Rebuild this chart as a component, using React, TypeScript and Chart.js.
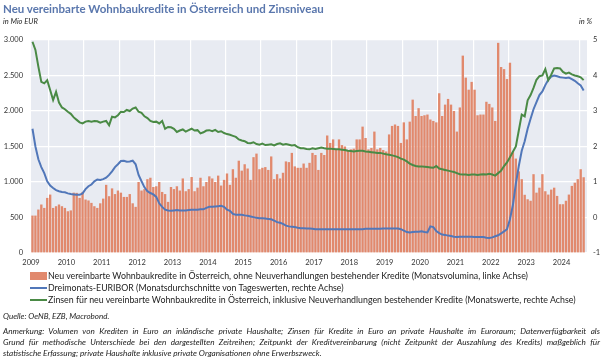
import React, { useEffect, useRef } from "react";
import { Chart, registerables } from "chart.js";

Chart.register(...registerables);

const firstYear = 2009;
const yearTicks = [2009, 2010, 2011, 2012, 2013, 2014, 2015, 2016, 2017, 2018, 2019, 2020, 2021, 2022, 2023, 2024];

// Monthly volume of newly agreed housing loans (Mio EUR), Jan 2009 – Aug 2024
const creditVolume = [
  527, 527, 612, 683, 635, 776, 823, 635, 659, 683, 659, 635,
  588, 600, 850, 847, 776, 860, 753, 740, 706, 659, 635, 700,
  766, 960, 800, 910, 830, 880, 850, 790, 790, 830, 700, 650,
  1000, 880, 900, 1040, 1060, 930, 940, 1000, 860, 830, 720, 930,
  900, 940, 880, 1050, 870, 900, 1070, 870, 920, 1060, 940, 1000,
  1080, 1050, 1000, 1090, 950, 1030, 1120, 960, 1180, 1060, 1300, 1160,
  1250, 1190, 1030, 1350, 1400, 1180, 1200, 1210, 1170, 1360, 1040, 1110,
  1050, 1130, 1290, 1280, 1410, 1220, 1200, 1200, 1260, 1200, 1270, 1410,
  1380, 1170, 1410, 1380, 1655, 1550, 1600, 1460, 1600, 1520, 1500, 1440,
  1460, 1470, 1600, 1600, 1780, 1620, 1460, 1480, 1710, 1460, 1480, 1450,
  1430, 1670, 1790, 1810, 1790, 1550, 1840, 1600, 1850, 2160, 1930, 2040,
  1930, 1940, 1950, 1880, 1860, 1840, 2250, 1930, 2090, 2170, 2090, 2000,
  1710, 2050, 2780, 2470, 2300, 2410, 2300, 1940, 1950, 1950, 2130, 2100,
  2050, 1860, 2960, 2620, 2590, 2450, 2680, 1420, 1330, 1150, 1040, 820,
  757, 736, 1110, 850, 920, 1110, 870, 823, 893, 920, 804, 687,
  687, 736, 823, 945, 990, 1040, 1180, 1067,
];

// 3-month EURIBOR, monthly averages (%)
const euribor = [
  2.5, 2.0, 1.64, 1.42, 1.25, 1.02, 0.9, 0.83, 0.77, 0.74, 0.72, 0.71,
  0.68, 0.66, 0.65, 0.64, 0.64, 0.68, 0.8, 0.88, 0.93, 1.02, 1.07, 1.06,
  1.08, 1.12, 1.2, 1.3, 1.42, 1.5, 1.59, 1.6, 1.57, 1.58, 1.6, 1.5,
  1.2, 1.02, 0.85, 0.74, 0.69, 0.65, 0.58, 0.4, 0.3, 0.22, 0.2, 0.19,
  0.2, 0.21, 0.2, 0.2, 0.2, 0.21, 0.22, 0.22, 0.22, 0.23, 0.23, 0.27,
  0.3, 0.3, 0.31, 0.32, 0.33, 0.3, 0.22, 0.19, 0.1, 0.08, 0.08, 0.08,
  0.06, 0.05, 0.03, 0.01, -0.01, -0.02, -0.02, -0.03, -0.04, -0.05, -0.09, -0.13,
  -0.15, -0.18, -0.23, -0.25, -0.26, -0.27, -0.29, -0.3, -0.3, -0.31, -0.31, -0.32,
  -0.33, -0.33, -0.33, -0.33, -0.33, -0.33, -0.33, -0.33, -0.33, -0.33, -0.33, -0.33,
  -0.33, -0.33, -0.33, -0.33, -0.33, -0.32, -0.32, -0.32, -0.32, -0.32, -0.32, -0.31,
  -0.31, -0.31, -0.31, -0.31, -0.31, -0.33, -0.37, -0.41, -0.42, -0.41, -0.4, -0.4,
  -0.39, -0.41, -0.42, -0.25, -0.27, -0.38, -0.44, -0.48, -0.49, -0.51, -0.52, -0.54,
  -0.55, -0.54, -0.54, -0.54, -0.54, -0.54, -0.55, -0.55, -0.55, -0.55, -0.57, -0.58,
  -0.56, -0.53, -0.5, -0.45, -0.39, -0.33, -0.05, 0.35, 0.95, 1.45, 1.88, 2.15,
  2.5, 2.78, 3.05, 3.25, 3.45, 3.55, 3.73, 3.88, 3.97, 4.0, 3.98, 3.95,
  3.94, 3.93, 3.94, 3.9, 3.85, 3.78, 3.72, 3.58,
];

// Interest rate on newly agreed housing loans incl. renegotiations (%)
const mortgageRate = [
  4.95, 4.72, 4.25, 3.82, 3.78, 3.87, 3.59, 3.31, 3.54, 3.24, 3.1, 3.05,
  2.98, 2.92, 2.82, 2.75, 2.68, 2.65, 2.7, 2.72, 2.7, 2.72, 2.71, 2.67,
  2.7, 2.72, 2.6, 2.84, 2.82, 2.88, 2.98, 2.97, 3.03, 3.0, 3.07, 3.1,
  2.98, 2.95, 2.85, 2.8, 2.72, 2.69, 2.7, 2.65, 2.72, 2.5, 2.55, 2.54,
  2.5, 2.41, 2.45, 2.48, 2.42, 2.46, 2.5, 2.45, 2.46, 2.37, 2.4, 2.45,
  2.46, 2.43, 2.47, 2.41, 2.43, 2.38, 2.35, 2.33, 2.3, 2.27, 2.2, 2.17,
  2.15, 2.1, 2.09, 2.12, 2.07, 2.05, 2.08, 2.04, 2.05, 2.06, 2.03, 2.07,
  2.09, 2.05, 2.07, 2.05, 2.03, 2.04, 1.98, 1.95, 1.95, 1.93, 1.92, 1.95,
  1.93, 1.95, 1.97, 1.95, 1.94, 1.94, 1.93, 1.92, 1.92, 1.91, 1.9, 1.88,
  1.87, 1.86, 1.87, 1.88, 1.88, 1.86, 1.85, 1.84, 1.83, 1.82, 1.82, 1.8,
  1.78, 1.77, 1.75, 1.73, 1.7, 1.66, 1.63, 1.58, 1.52, 1.48, 1.45, 1.44,
  1.44, 1.43, 1.42, 1.41, 1.4, 1.45, 1.38, 1.36, 1.34, 1.32, 1.3, 1.28,
  1.25, 1.22, 1.21, 1.21, 1.2, 1.21, 1.21, 1.2, 1.21, 1.22, 1.21, 1.23,
  1.21, 1.18, 1.25, 1.32, 1.45, 1.55, 1.7, 1.85, 2.0, 2.45, 2.9, 2.85,
  3.3, 3.45, 3.65, 3.88, 3.98, 4.0, 4.18, 3.87, 4.02, 4.2, 4.21, 4.2,
  4.1, 4.05, 4.08, 4.03, 4.0, 3.98, 3.95, 3.87,
];

const legendLabels = [
  "Neu vereinbarte Wohnbaukredite in Österreich, ohne Neuverhandlungen bestehender Kredite (Monatsvolumina, linke Achse)",
  "Dreimonats-EURIBOR (Monatsdurchschnitte von Tageswerten, rechte Achse)",
  "Zinsen für neu vereinbarte Wohnbaukredite in Österreich, inklusive Neuverhandlungen bestehender Kredite (Monatswerte, rechte Achse)",
];

const BAR_COLOR = "#e1896d";
const BLUE = "#5177b9";
const GREEN = "#4a8a45";
const FONT = "Lato, 'Open Sans', sans-serif";

const monthX = (i: number) => firstYear + (i + 0.5) / 12;

const fmtThousands = (v: number) => {
  if (v >= 1000) {
    const t = Math.floor(v / 1000);
    const r = String(v % 1000).padStart(3, "0");
    return `${t}.${r}`;
  }
  return String(v);
};

const bgPlugin = {
  id: "plotBg",
  beforeDraw(chart: any) {
    const { ctx, chartArea } = chart;
    if (!chartArea) return;
    ctx.save();
    ctx.fillStyle = "#e8ebf2";
    ctx.fillRect(chartArea.left, chartArea.top, chartArea.right - chartArea.left, chartArea.bottom - chartArea.top);
    ctx.restore();
  },
};

function ChartCanvas() {
  const ref = useRef<HTMLCanvasElement | null>(null);
  useEffect(() => {
    if (!ref.current) return;
    const chart = new Chart(ref.current, {
      type: "bar",
      data: {
        datasets: [
          {
            type: "bar",
            label: legendLabels[0],
            data: creditVolume.map((v, i) => ({ x: monthX(i), y: v })),
            backgroundColor: BAR_COLOR,
            borderWidth: 0,
            barPercentage: 0.8,
            categoryPercentage: 1,
            yAxisID: "y",
            order: 3,
          } as any,
          {
            type: "line",
            label: legendLabels[1],
            data: euribor.map((v, i) => ({ x: monthX(i), y: v })),
            borderColor: BLUE,
            borderWidth: 2,
            pointRadius: 0,
            tension: 0,
            yAxisID: "y1",
            order: 2,
          } as any,
          {
            type: "line",
            label: legendLabels[2],
            data: mortgageRate.map((v, i) => ({ x: monthX(i), y: v })),
            borderColor: GREEN,
            borderWidth: 2,
            pointRadius: 0,
            tension: 0,
            yAxisID: "y1",
            order: 1,
          } as any,
        ],
      },
      options: {
        animation: false,
        responsive: false,
        maintainAspectRatio: false,
        layout: { padding: { top: 40, left: 0, right: 0, bottom: 0 } },
        plugins: {
          legend: { display: false },
          title: { display: false },
          tooltip: { enabled: false },
        },
        scales: {
          x: {
            type: "linear",
            min: 2009,
            max: 2024.72,
            offset: false,
            grid: { color: "#ffffff", lineWidth: 1.2, drawTicks: false },
            border: { display: false },
            ticks: {
              stepSize: 1,
              includeBounds: false,
              autoSkip: false,
              maxRotation: 0,
              padding: 5,
              color: "#333333",
              font: { family: FONT, size: 7.5 },
              callback: (v: any) => (yearTicks.includes(Number(v)) ? String(v) : ""),
            },
            afterFit: (s: any) => {
              s.height = 107;
            },
          },
          y: {
            type: "linear",
            position: "left",
            min: 0,
            max: 3000,
            grid: { color: "#ffffff", lineWidth: 1.2, drawTicks: false },
            border: { display: false },
            ticks: {
              stepSize: 500,
              padding: 8,
              color: "#333333",
              font: { family: FONT, size: 7.5 },
              callback: (v: any) => fmtThousands(Number(v)),
            },
            afterFit: (s: any) => {
              s.width = 31;
            },
          },
          y1: {
            type: "linear",
            position: "right",
            min: -1,
            max: 5,
            grid: { display: false, drawTicks: false },
            border: { display: false },
            ticks: {
              stepSize: 1,
              padding: 6,
              color: "#333333",
              font: { family: FONT, size: 7.5 },
            },
            afterFit: (s: any) => {
              s.width = 18;
            },
          },
        },
      } as any,
      plugins: [bgPlugin],
    });
    return () => chart.destroy();
  }, []);
  return <canvas ref={ref} width={605} height={360} style={{ position: "absolute", left: 0, top: 0, width: 605, height: 360 }} />;
}

const textBase: React.CSSProperties = {
  position: "absolute",
  fontFamily: FONT,
  color: "#222",
  whiteSpace: "nowrap",
  lineHeight: 1,
};

export default function App() {
  const noteLines = [
    "Anmerkung: Volumen von Krediten in Euro an inländische private Haushalte; Zinsen für Kredite in Euro an private Haushalte im Euroraum; Datenverfügbarkeit als",
    "Grund für methodische Unterschiede bei den dargestellten Zeitreihen; Zeitpunkt der Kreditvereinbarung (nicht Zeitpunkt der Auszahlung des Kredits) maßgeblich für",
    "statistische Erfassung; private Haushalte inklusive private Organisationen ohne Erwerbszweck.",
  ];
  return (
    <div style={{ position: "absolute", left: 0, top: 0, width: 605, height: 360, background: "#ffffff", overflow: "hidden" }}>
      <ChartCanvas />
      <div style={{ ...textBase, left: 3, top: 3, fontSize: 11.5, fontWeight: 700, color: "#5a77ad" }}>
        Neu vereinbarte Wohnbaukredite in Österreich und Zinsniveau
      </div>
      <div style={{ ...textBase, left: 3, top: 18, fontSize: 7.5, fontStyle: "italic" }}>in Mio EUR</div>
      <div style={{ ...textBase, left: 579, top: 18, fontSize: 7.5, fontStyle: "italic" }}>in %</div>

      <div style={{ ...textBase, left: 30, top: 272, fontSize: 8.8, display: "flex", alignItems: "center" }}>
        <span style={{ display: "inline-block", width: 17, height: 8, background: BAR_COLOR, marginRight: 1 }} />
        {legendLabels[0]}
      </div>
      <div style={{ ...textBase, left: 30, top: 284, fontSize: 8.8, display: "flex", alignItems: "center" }}>
        <span style={{ display: "inline-block", width: 17, height: 2, background: BLUE, marginRight: 1 }} />
        {legendLabels[1]}
      </div>
      <div style={{ ...textBase, left: 30, top: 296, fontSize: 8.8, display: "flex", alignItems: "center" }}>
        <span style={{ display: "inline-block", width: 17, height: 2, background: GREEN, marginRight: 1 }} />
        {legendLabels[2]}
      </div>

      <div style={{ ...textBase, left: 3, top: 312, fontSize: 8, fontStyle: "italic" }}>Quelle: OeNB, EZB, Macrobond.</div>

      {noteLines.map((line, i) => (
        <div
          key={i}
          style={{
            ...textBase,
            left: 3,
            top: 327 + i * 11,
            width: 597,
            fontSize: 8.2,
            fontStyle: "italic",
            whiteSpace: "normal",
            textAlign: "justify",
            textAlignLast: i < 2 ? "justify" : "left",
          } as React.CSSProperties}
        >
          {line}
        </div>
      ))}
    </div>
  );
}
